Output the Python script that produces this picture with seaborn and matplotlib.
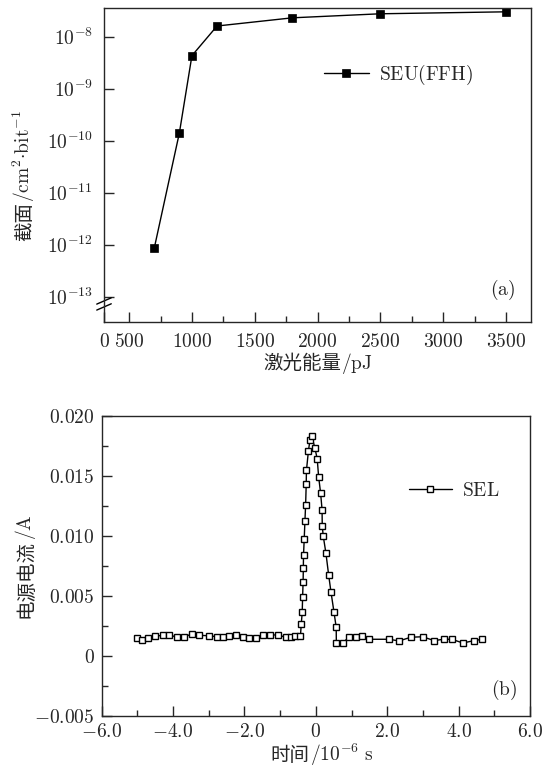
import numpy as np
import matplotlib
matplotlib.use("Agg")
import matplotlib.pyplot as plt
from matplotlib.ticker import NullLocator
import seaborn as sns

# (a) SEU cross section vs laser energy
energy_pj = [700, 900, 1000, 1200, 1800, 2500, 3500]
cross_section = [8.5e-13, 1.4e-10, 4.3e-9, 1.6e-8, 2.3e-8, 2.75e-8, 3.0e-8]
energy_ticks = [300, 500, 1000, 1500, 2000, 2500, 3000, 3500]
energy_labels = ["0", "500", "1000", "1500", "2000", "2500", "3000", "3500"]
cs_exponents = [-8, -9, -10, -11, -12, -13]

# (b) supply current vs time (SEL)
time_us = [-5.02, -4.86, -4.69, -4.51, -4.27, -4.10, -3.88, -3.69, -3.48, -3.26,
           -2.98, -2.77, -2.61, -2.43, -2.24, -2.05, -1.87, -1.68, -1.48, -1.28,
           -1.07, -0.84, -0.70, -0.57, -0.43,
           -0.409, -0.381, -0.370, -0.356, -0.350, -0.345, -0.325, -0.305, -0.286,
           -0.269, -0.263, -0.207, -0.165, -0.118,
           -0.025, 0.039, 0.078, 0.134, 0.175, 0.180, 0.207, 0.283, 0.359, 0.423,
           0.507, 0.571, 0.575,
           0.751, 0.927, 1.137, 1.305, 1.487, 2.048, 2.336, 2.658, 3.0, 3.308,
           3.58, 3.81, 4.12, 4.437, 4.66]
current_a = [0.00150, 0.00133, 0.00152, 0.00165, 0.00172, 0.00172, 0.00158, 0.00158, 0.00183, 0.00172,
             0.00168, 0.00160, 0.00158, 0.00169, 0.00175, 0.00161, 0.00147, 0.00147, 0.00175, 0.00175,
             0.00175, 0.00156, 0.00161, 0.00169, 0.00169,
             0.00263, 0.00364, 0.00494, 0.00619, 0.00731, 0.00838, 0.00975, 0.01125, 0.01256,
             0.01433, 0.01544, 0.01708, 0.01796, 0.01833,
             0.01731, 0.01640, 0.01494, 0.01356, 0.01217, 0.01083, 0.01000, 0.00856, 0.00675, 0.00536,
             0.00369, 0.00239, 0.00108,
             0.00108, 0.00156, 0.00156, 0.00169, 0.00139, 0.00139, 0.00125, 0.00156, 0.00160, 0.00128,
             0.00139, 0.00139, 0.00108, 0.00128, 0.00139]
time_ticks = [-6, -4, -2, 0, 2, 4, 6]
time_labels = [r"$-6.0$", r"$-4.0$", r"$-2.0$", r"$0$", r"$2.0$", r"$4.0$", r"$6.0$"]
current_ticks = [0.020, 0.015, 0.010, 0.005, 0, -0.005]
current_labels = [r"$0.020$", r"$0.015$", r"$0.010$", r"$0.005$", r"$0$", r"$-0.005$"]

sns.set_style("ticks")
plt.rcParams["mathtext.fontset"] = "cm"
plt.rcParams["font.family"] = ["DejaVu Serif", "Noto Sans CJK SC"]
plt.rcParams["axes.linewidth"] = 1.0

FS = 14
CJK = "Noto Sans CJK SC"

fig = plt.figure(figsize=(5.55, 7.72), dpi=100)
ax1 = fig.add_axes([0.1874, 0.5829, 0.7694, 0.4067])
ax2 = fig.add_axes([0.1832, 0.0725, 0.7717, 0.389])

# top panel
ax1.set_yscale("log")
sns.lineplot(x=energy_pj, y=cross_section, ax=ax1, estimator=None, sort=False,
             color="black", linewidth=1.0, marker="s", markersize=5.4,
             markerfacecolor="black", markeredgecolor="black", markeredgewidth=0.5,
             label=r"$\mathrm{SEU(FFH)}$")
ax1.set_xlim(300, 3700)
ax1.set_ylim(10 ** -13.49, 10 ** -7.45)
ax1.set_xticks(energy_ticks)
ax1.set_xticklabels([r"$\mathrm{%s}$" % s for s in energy_labels])
ax1.set_xticks(np.arange(750, 3500, 500), minor=True)
ax1.set_yticks([10.0 ** e for e in cs_exponents])
ax1.set_yticklabels([r"$\mathrm{10^{%d}}$" % e for e in cs_exponents])
ax1.yaxis.set_minor_locator(NullLocator())
ax1.tick_params(which="both", direction="in", top=False, right=False, width=1, labelsize=FS)
ax1.tick_params(which="major", length=7)
ax1.tick_params(which="minor", length=4)
ax1.tick_params(axis="x", pad=8)
ax1.tick_params(axis="y", pad=8)
ax1.set_xlabel("")
ax1.set_ylabel("")
ax1.legend(loc="center left", bbox_to_anchor=(0.515, 0.787), frameon=False,
           handlelength=2.3, handletextpad=0.55, borderpad=0, borderaxespad=0,
           fontsize=FS, numpoints=1)
ax1.text(0.934, 0.102, r"$\mathrm{(a)}$", transform=ax1.transAxes,
         ha="center", va="center", fontsize=FS)

# axis break marks on the left spine
for yb in (0.067, 0.048):
    ax1.plot([-0.017, 0.017], [yb - 0.01, yb + 0.01], transform=ax1.transAxes,
             color="black", lw=1, clip_on=False)

# bottom panel
sns.lineplot(x=time_us, y=current_a, ax=ax2, estimator=None, sort=False,
             color="black", linewidth=1.0, marker="s", markersize=4.8,
             markerfacecolor="white", markeredgecolor="black", markeredgewidth=1.0,
             label=r"$\mathrm{SEL}$")
ax2.set_xlim(-6, 6)
ax2.set_ylim(-0.005, 0.020)
ax2.set_xticks(time_ticks)
ax2.set_xticklabels(time_labels)
ax2.set_xticks(np.arange(-5, 6, 2), minor=True)
ax2.set_yticks(current_ticks)
ax2.set_yticklabels(current_labels)
ax2.set_yticks(np.arange(-0.0025, 0.02, 0.005), minor=True)
ax2.tick_params(which="both", direction="in", top=False, right=False, width=1, labelsize=FS)
ax2.tick_params(which="major", length=7)
ax2.tick_params(which="minor", length=4)
ax2.tick_params(axis="x", pad=5)
ax2.tick_params(axis="y", pad=5)
ax2.set_xlabel("")
ax2.set_ylabel("")
ax2.legend(loc="center left", bbox_to_anchor=(0.7175, 0.749), frameon=False,
           handlelength=2.2, handletextpad=0.55, borderpad=0, borderaxespad=0,
           fontsize=FS, numpoints=1)
ax2.text(0.94, 0.087, r"$\mathrm{(b)}$", transform=ax2.transAxes,
         ha="center", va="center", fontsize=FS)


def mixed_label(x, y, parts, rotation=0):
    # chinese part in a CJK font, the rest as cm mathtext, laid end to end
    texts = []
    for s, fam in parts:
        texts.append(fig.text(0, 0, s, fontsize=FS, family=fam, rotation=rotation,
                              rotation_mode="anchor", ha="left", va="baseline"))
    renderer = fig.canvas.get_renderer()
    boxes = [t.get_window_extent(renderer) for t in texts]
    lengths = [b.height if rotation else b.width for b in boxes]
    pos = -sum(lengths) / 2
    for t, n in zip(texts, lengths):
        if rotation:
            t.set_position((x, y + pos / fig.bbox.height))
        else:
            t.set_position((x + pos / fig.bbox.width, y))
        pos += n


mixed_label(0.573, 0.522, [("激光能量", CJK), (r"$\mathrm{/pJ}$", "DejaVu Serif")])
mixed_label(0.054, 0.772, [("截面", CJK), (r"$\mathrm{/cm^2{\cdot}bit^{-1}}$", "DejaVu Serif")], rotation=90)
mixed_label(0.580, 0.014, [("时间", CJK), (r"$\mathrm{/10^{-6}\ s}$", "DejaVu Serif")])
mixed_label(0.056, 0.267, [("电源电流", CJK), (r"$\mathrm{/A}$", "DejaVu Serif")], rotation=90)

fig.savefig("out.png", dpi=100)
